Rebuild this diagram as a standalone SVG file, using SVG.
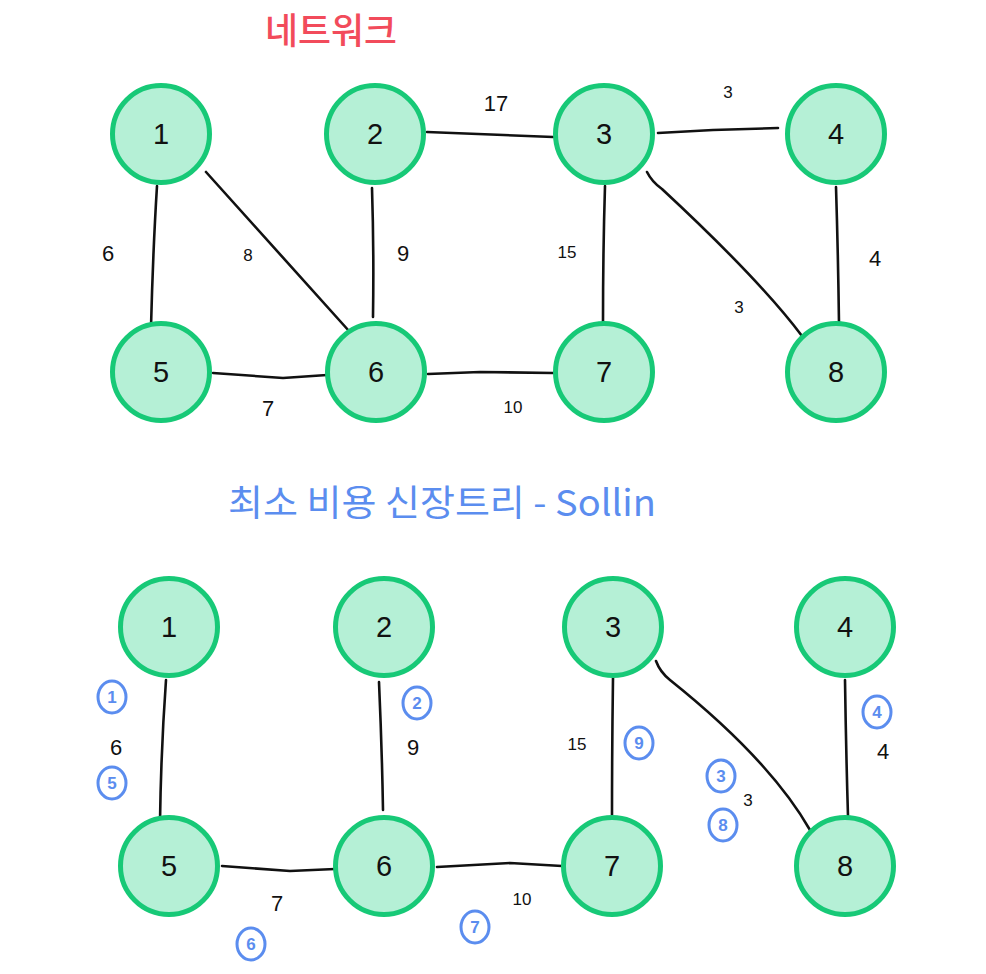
<svg xmlns="http://www.w3.org/2000/svg" width="986" height="974" viewBox="0 0 986 974">
<style>
.node circle{fill:#b5f0d6;stroke:#17c977;stroke-width:5}
.node text{font-family:"Liberation Sans","Noto Sans",sans-serif;font-size:29px;fill:#111;text-anchor:middle;dominant-baseline:central}
.edges path{fill:none;stroke:#111;stroke-width:2.6;stroke-linecap:round;stroke-linejoin:round}
.w{font-family:"Liberation Sans","Noto Sans",sans-serif;font-size:22px;fill:#111;text-anchor:middle;dominant-baseline:central}
.ws{font-size:17px}
.ord ellipse{fill:none;stroke:#5b8def;stroke-width:3}
.ord text{font-family:"Liberation Sans","Noto Sans",sans-serif;font-size:17px;font-weight:bold;fill:#5b8def;text-anchor:middle;dominant-baseline:central}
</style>
<rect width="986" height="974" fill="#ffffff"/>
<text x="331" y="44" font-family="'Noto Sans CJK KR',sans-serif" font-size="36" font-weight="500" fill="#f24b5b" text-anchor="middle" textLength="132" lengthAdjust="spacingAndGlyphs">네트워크</text>
<text x="442" y="516" font-family="'Noto Sans CJK KR',sans-serif" font-size="36" fill="#5b8def" text-anchor="middle" textLength="428" lengthAdjust="spacingAndGlyphs">최소 비용 신장트리 - Sollin</text>

<g id="edges-top" class="edges">
<path d="M157,186 Q153,250 151,327"/>
<path d="M206,172 L349,331"/>
<path d="M372,188 Q374,250 373,317"/>
<path d="M213,373 L283,378 L327,375"/>
<path d="M427,132 L553,137"/>
<path d="M428,374 L480,372 L553,373"/>
<path d="M658,133 L713,130 L778,128"/>
<path d="M605,186 Q603,250 603,322"/>
<path d="M647,172 Q652,182 662,189 Q760,280 802,336"/>
<path d="M836,187 Q838,250 839,323"/>
</g>
<g id="weights-top">
<text class="w" x="108" y="253">6</text>
<text class="w ws" x="248" y="255">8</text>
<text class="w" x="403" y="253">9</text>
<text class="w" x="496" y="103">17</text>
<text class="w" x="268" y="408">7</text>
<text class="w ws" x="513" y="407">10</text>
<text class="w ws" x="728" y="92">3</text>
<text class="w ws" x="567" y="252">15</text>
<text class="w ws" x="739" y="307">3</text>
<text class="w" x="875" y="258">4</text>
</g>

<g id="t1" class="node"><circle cx="161" cy="134" r="48.5"/><text x="161" y="134">1</text></g>
<g id="t2" class="node"><circle cx="375" cy="134" r="48.5"/><text x="375" y="134">2</text></g>
<g id="t3" class="node"><circle cx="604" cy="134" r="48.5"/><text x="604" y="134">3</text></g>
<g id="t4" class="node"><circle cx="836" cy="134" r="48.5"/><text x="836" y="134">4</text></g>
<g id="t5" class="node"><circle cx="161" cy="372" r="48.5"/><text x="161" y="372">5</text></g>
<g id="t6" class="node"><circle cx="376" cy="372" r="48.5"/><text x="376" y="372">6</text></g>
<g id="t7" class="node"><circle cx="604" cy="372" r="48.5"/><text x="604" y="372">7</text></g>
<g id="t8" class="node"><circle cx="836" cy="372" r="48.5"/><text x="836" y="372">8</text></g>

<g id="edges-bottom" class="edges">
<path d="M166,680 Q161,750 160,822"/>
<path d="M379,682 Q382,750 383,810"/>
<path d="M222,866 L290,871 L335,869"/>
<path d="M437,867 L510,863 L562,866"/>
<path d="M613,678 Q612,750 612,815"/>
<path d="M656,661 Q660,672 670,680 Q770,760 810,830"/>
<path d="M845,680 Q846,750 848,816"/>
</g>
<g id="weights-bottom">
<text class="w" x="116" y="747">6</text>
<text class="w" x="413" y="747">9</text>
<text class="w" x="277" y="903">7</text>
<text class="w ws" x="577" y="744">15</text>
<text class="w ws" x="522" y="899">10</text>
<text class="w ws" x="748" y="800">3</text>
<text class="w" x="883" y="751">4</text>
</g>
<g id="order" class="ord">
<g><ellipse cx="112" cy="697" rx="14" ry="16"/><text x="112" y="697">1</text></g>
<g><ellipse cx="417" cy="703" rx="14" ry="16"/><text x="417" y="703">2</text></g>
<g><ellipse cx="721" cy="776" rx="14" ry="16"/><text x="721" y="776">3</text></g>
<g><ellipse cx="877" cy="712" rx="14" ry="16"/><text x="877" y="712">4</text></g>
<g><ellipse cx="112" cy="783" rx="14" ry="16"/><text x="112" y="783">5</text></g>
<g><ellipse cx="251" cy="944" rx="14" ry="16"/><text x="251" y="944">6</text></g>
<g><ellipse cx="475" cy="927" rx="14" ry="16"/><text x="475" y="927">7</text></g>
<g><ellipse cx="723" cy="825" rx="14" ry="16"/><text x="723" y="825">8</text></g>
<g><ellipse cx="639" cy="743" rx="14" ry="16"/><text x="639" y="743">9</text></g>
</g>

<g id="b1" class="node"><circle cx="169" cy="627" r="48.5"/><text x="169" y="627">1</text></g>
<g id="b2" class="node"><circle cx="384" cy="627" r="48.5"/><text x="384" y="627">2</text></g>
<g id="b3" class="node"><circle cx="613" cy="627" r="48.5"/><text x="613" y="627">3</text></g>
<g id="b4" class="node"><circle cx="845" cy="627" r="48.5"/><text x="845" y="627">4</text></g>
<g id="b5" class="node"><circle cx="169" cy="866" r="48.5"/><text x="169" y="866">5</text></g>
<g id="b6" class="node"><circle cx="384" cy="866" r="48.5"/><text x="384" y="866">6</text></g>
<g id="b7" class="node"><circle cx="612" cy="866" r="48.5"/><text x="612" y="866">7</text></g>
<g id="b8" class="node"><circle cx="845" cy="866" r="48.5"/><text x="845" y="866">8</text></g>
</svg>
